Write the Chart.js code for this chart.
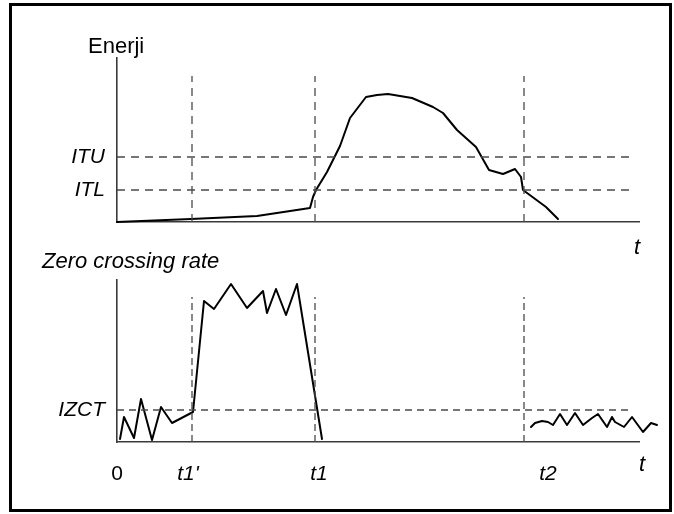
<!DOCTYPE html>
<html>
<head>
<meta charset="utf-8">
<script src="https://cdn.jsdelivr.net/npm/chart.js@4/dist/chart.umd.min.js"></script>
<style>
  html, body { margin: 0; padding: 0; background: #fff; }
  #wrap { position: relative; width: 674px; height: 514px; overflow: hidden; background: #fff; }
  #frame { position: absolute; left: 9px; top: 3px; width: 663px; height: 509px; box-sizing: border-box; border: 3px solid #000; }
  canvas { position: absolute; left: 0; top: 0; }
  .lbl { position: absolute; font-family: 'Liberation Sans', Arial, sans-serif; font-size: 22px; line-height: 22px; color: #000; white-space: nowrap; }
  .it { font-style: italic; }
</style>
</head>
<body>
<div id="wrap">
  <div id="frame"></div>
  <canvas id="top" width="674" height="514"></canvas>
  <canvas id="bot" width="674" height="514"></canvas>
  <div class="lbl" style="left:88px; top:35px;">Enerji</div>
  <div class="lbl it" style="left:634px; top:236px;">t</div>
  <div class="lbl it" style="left:42px; top:250px;">Zero crossing rate</div>
  <div class="lbl it" style="left:639px; top:453px;">t</div>
</div>
<script>
// ---- time axis (shared) ----
const T_MAX = 522;
const markerTimes = [75, 198, 407];          // t1', t1, t2
const bottomTickPos = [0, 71, 202, 431];      // label positions on time axis
const bottomTickLabels = ['0', "t1'", 't1', 't2'];

// ---- energy panel ----
const ENERGY_MAX = 164;
const energyT   = [0, 74, 140, 193, 196, 199, 210, 223, 233, 249, 260, 271, 283, 295, 316, 326, 340, 359, 372, 386, 398, 404, 406, 429, 441];
const energyVal = [0, 3, 6, 14, 25, 32, 50, 76, 104, 125, 127, 128, 126, 124, 115, 109, 92, 75, 52, 48, 53, 45, 32, 15, 3];
const energyThresholds = [65, 32];           // ITU, ITL
const energyThresholdLabels = ['ITU', 'ITL'];
const energyThresholdEnd = 515;
const energyMarkerTop = 146;

// ---- zero crossing rate panel ----
const ZCR_MAX = 162;
const zcr1T   = [3, 7, 17, 24, 35, 44, 55, 76, 87, 97, 114, 130, 146, 150, 159, 169, 180, 205];
const zcr1Val = [3, 25, 4, 43, 2, 35, 19, 30, 141, 133, 158, 134, 151, 129, 153, 127, 158, 3];
const zcr2T   = [414, 418, 425, 431, 436, 443, 450, 458, 466, 475, 481, 490, 495, 498, 507, 515, 526, 534, 540];
const zcr2Val = [15, 19, 21, 20, 17, 28, 17, 29, 17, 24, 28, 15, 25, 20, 15, 25, 10, 19, 17];
const zcrThreshold = 32;                     // IZCT
const zcrThresholdLabel = 'IZCT';
const zcrThresholdEnd = 515;
const zcrMarkerTop = 145;

const FONT = "'Liberation Sans', Arial, sans-serif";
const AXIS_COLOR = '#3a3a3a';
const DASH_COLOR = '#4a4a4a';

function pts(xs, ys) { return xs.map((x, i) => ({ x: x, y: ys[i] })); }

function solid(data) {
  return { data: data, borderColor: '#000', borderWidth: 2, pointRadius: 0, tension: 0,
           fill: false, clip: false, borderJoinStyle: 'round', borderCapStyle: 'round' };
}
function dashed(data, dash) {
  return { data: data, borderColor: DASH_COLOR, borderWidth: 1.3, pointRadius: 0, tension: 0,
           fill: false, clip: false, borderDash: dash };
}

function makeChart(id, cfg) {
  return new Chart(document.getElementById(id), {
    type: 'line',
    data: { datasets: cfg.datasets },
    options: {
      responsive: false,
      animation: false,
      devicePixelRatio: 1,
      events: [],
      layout: { padding: { top: cfg.padTop, left: 0, right: 35, bottom: 0 } },
      plugins: { legend: { display: false }, tooltip: { enabled: false }, title: { display: false } },
      scales: {
        x: {
          type: 'linear',
          bounds: 'data',
          afterDataLimits: (s) => { s.min = 0; s.max = T_MAX; },
          afterBuildTicks: (s) => { s.min = 0; s.max = T_MAX; s.ticks = cfg.xTicks.map(v => ({ value: v })); },
          afterFit: (s) => { s.height = cfg.xHeight; },
          grid: { display: false, drawTicks: false },
          border: { display: true, color: AXIS_COLOR, width: 1.6 },
          ticks: {
            display: cfg.xTicks.length > 0,
            autoSkip: false, maxRotation: 0, minRotation: 0,
            padding: 20, color: '#000',
            font: (ctx) => ({ family: FONT, size: 21, style: (ctx.tick && ctx.tick.label === '0') ? 'normal' : 'italic' }),
            callback: (v, i) => cfg.xLabels[i]
          }
        },
        y: {
          type: 'linear',
          bounds: 'data',
          min: 0, max: cfg.yMax,
          afterBuildTicks: (s) => { s.min = 0; s.max = cfg.yMax; s.ticks = cfg.yTicks.map(v => ({ value: v })); },
          afterFit: (s) => { s.width = 117; },
          grid: { display: false, drawTicks: false },
          border: { display: true, color: AXIS_COLOR, width: 1.6 },
          ticks: {
            autoSkip: false, padding: 12, color: '#000',
            font: { family: FONT, size: 21, style: 'italic' },
            callback: (v, i) => cfg.yLabels[i]
          }
        }
      }
    }
  });
}

// top panel datasets
const topSets = [];
energyThresholds.forEach(v => topSets.push(dashed(pts([0, energyThresholdEnd], [v, v]), [8, 6])));
markerTimes.forEach(t => topSets.push(dashed(pts([t, t], [0, energyMarkerTop]), [8, 6])));
topSets.push(solid(pts(energyT, energyVal)));

makeChart('top', {
  datasets: topSets, padTop: 58, xHeight: 292, yMax: ENERGY_MAX,
  xTicks: [], xLabels: [], yTicks: energyThresholds, yLabels: energyThresholdLabels
});

// bottom panel datasets
const botSets = [];
botSets.push(dashed(pts([0, zcrThresholdEnd], [zcrThreshold, zcrThreshold]), [7, 5]));
markerTimes.forEach(t => botSets.push(dashed(pts([t, t], [0, zcrMarkerTop]), [7, 4])));
botSets.push(solid(pts(zcr1T, zcr1Val)));
botSets.push(solid(pts(zcr2T, zcr2Val)));

makeChart('bot', {
  datasets: botSets, padTop: 280, xHeight: 72, yMax: ZCR_MAX,
  xTicks: bottomTickPos, xLabels: bottomTickLabels, yTicks: [zcrThreshold], yLabels: [zcrThresholdLabel]
});
</script>
</body>
</html>
